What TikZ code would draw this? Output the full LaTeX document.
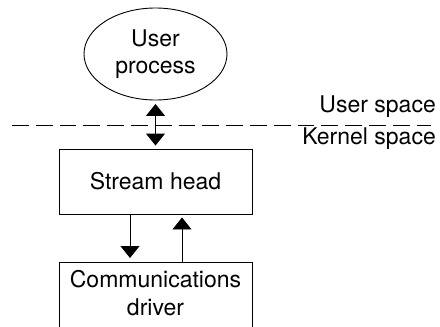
\documentclass[tikz,border=0pt]{standalone}
\usepackage{fontspec}
\setmainfont{TeX Gyre Heros}
\usetikzlibrary{arrows.meta,shapes.geometric}
\begin{document}
\begin{tikzpicture}[x=1pt,y=-1pt,
  every node/.style={font=\fontsize{23}{27.5}\selectfont, inner sep=0pt},
  boxstyle/.style={draw, line width=0.9pt, rectangle, minimum width=193pt},
  arr/.style={line width=0.9pt, -{Triangle[width=19pt,length=12pt]}},
  dblarr/.style={line width=0.9pt, {Triangle[width=19pt,length=12pt]}-{Triangle[width=19pt,length=12pt]}}]
\clip (0,0) rectangle (440,327);
\node[draw, line width=0.9pt, ellipse, minimum width=143pt, minimum height=92pt, align=center] (user) at (155.5,54) {User\\process};
\node[boxstyle, minimum height=65pt] (stream) at (155.5,181.5) {Stream head};
\node[boxstyle, minimum height=90pt, anchor=north] (comm) at (155.5,262) {};
\node[align=center] (commtext) at (155.5,293) {Communications\\driver};
\coordinate (dl) at (12,125);
\coordinate (dr) at (431,125);
\draw[line width=0.9pt, dash pattern=on 16.7pt off 7.1pt] (dl) -- (dr);
\node[anchor=base east] (us) at (436,112.5) {User space};
\node[anchor=base east] (ks) at (436,144.5) {Kernel space};
\draw[dblarr, shorten <=3.5pt, shorten >=3pt] (user.south) -- (stream.north);
\draw[arr, shorten >=4pt] (stream.south -| 130,0) -- (comm.north -| 130,0);
\draw[arr, shorten >=3pt] (comm.north -| 182,0) -- (stream.south -| 182,0);
\end{tikzpicture}
\end{document}
